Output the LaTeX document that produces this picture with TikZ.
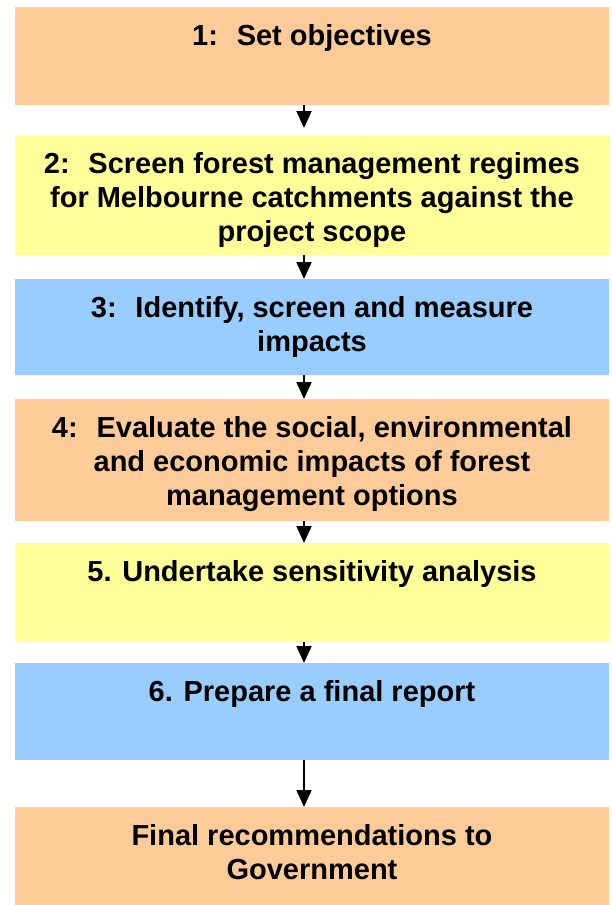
\documentclass[tikz,border=0pt]{standalone}
\usepackage{fontspec}
\setmainfont{Liberation Sans}
\usetikzlibrary{arrows.meta}

\definecolor{stageorange}{HTML}{FFCC99}
\definecolor{stageyellow}{HTML}{FFFF99}
\definecolor{stageblue}{HTML}{99CCFF}

% box text: first baseline 38pt below the top edge
\newcommand{\stagetext}[2]{\parbox[c][#1][t]{580pt}{\centering\rule{0pt}{38pt}#2}}

\tikzset{
	stage/.style={fill=#1, inner sep=0pt, anchor=north, minimum width=594pt,
		font=\fontsize{29}{34}\selectfont\bfseries},
	flow/.style={-{Triangle[width=15pt,length=17pt]}, line width=2pt}
}

\begin{document}
\begin{tikzpicture}[x=1pt, y=-1pt]
	\useasboundingbox (0,0) rectangle (611,905);
	\node[stage=stageorange] (s1) at (312,7) {\stagetext{98pt}{1:~ Set objectives}};
	\node[stage=stageyellow] (s2) at (312,135) {\stagetext{120pt}{2:~ Screen forest management regimes\\ for Melbourne catchments against the\\ project scope}};
	\node[stage=stageblue] (s3) at (312,279) {\stagetext{96pt}{3:~ Identify, screen and measure\\ impacts}};
	\node[stage=stageorange] (s4) at (312,399) {\stagetext{122pt}{4:~ Evaluate the social, environmental\\ and economic impacts of forest\\ management options}};
	\node[stage=stageyellow] (s5) at (312,543) {\stagetext{99pt}{5. Undertake sensitivity analysis}};
	\node[stage=stageblue] (s6) at (312,663) {\stagetext{97pt}{6. Prepare a final report}};
	\node[stage=stageorange] (s7) at (312,807) {\stagetext{98pt}{Final recommendations to\\ Government}};
	% connectors, slightly left of the box centres
	\draw[flow, shorten >=7pt] ([xshift=-8pt]s1.south) -- ([xshift=-8pt]s2.north);
	\foreach \a/\b in {s2/s3, s3/s4, s4/s5, s5/s6, s6/s7}
		\draw[flow] ([xshift=-8pt]\a.south) -- ([xshift=-8pt]\b.north);
\end{tikzpicture}
\end{document}
